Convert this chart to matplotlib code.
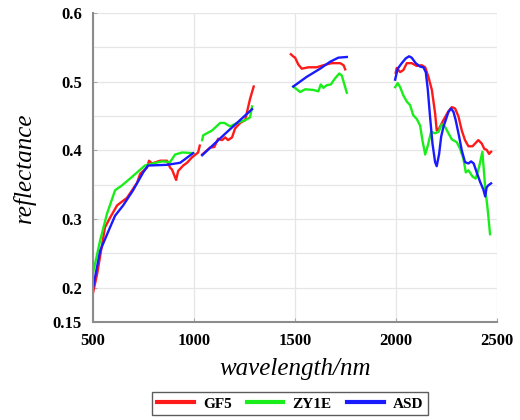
import matplotlib.pyplot as plt
import numpy as np

nan = np.nan

# Spektren (Segmente durch nan getrennt)
gf5_wl = [500, 520, 559, 584, 619, 668, 718, 733, 767, 777, 792, 832, 866, 881, 891, 911, 921, 946, 965, 990, 1020, 1028, nan,
          1040, 1079, 1100, 1119, 1139, 1154, 1168, 1188, 1203, 1228, 1253, 1262, 1277, 1295, nan,
          1479, 1490, 1500, 1516, 1533, 1566, 1607, 1640, 1681, 1723, 1740, 1748, nan,
          1998, 2003, 2020, 2036, 2053, 2077, 2102, 2127, 2144, 2160, 2177, 2193, 2201, 2213, 2234, 2259, 2276,
          2292, 2309, 2325, 2341, 2358, 2378, 2391, 2407, 2424, 2437, 2448, 2460, 2470]
gf5_ref = [0.193, 0.220, 0.288, 0.302, 0.320, 0.331, 0.353, 0.366, 0.375, 0.385, 0.381, 0.385, 0.385, 0.375, 0.372, 0.357, 0.370, 0.378, 0.382, 0.390, 0.397, 0.407, nan,
           0.394, 0.404, 0.405, 0.417, 0.415, 0.419, 0.415, 0.419, 0.432, 0.440, 0.444, 0.456, 0.475, 0.493, nan,
           0.540, 0.537, 0.535, 0.525, 0.519, 0.521, 0.521, 0.524, 0.527, 0.527, 0.524, 0.518, nan,
           0.513, 0.520, 0.514, 0.517, 0.527, 0.527, 0.523, 0.524, 0.521, 0.507, 0.488, 0.454, 0.429, 0.432, 0.444, 0.457, 0.463,
           0.461, 0.449, 0.429, 0.415, 0.406, 0.406, 0.410, 0.415, 0.410, 0.402, 0.401, 0.395, 0.398]

zy1e_wl = [500, 535, 569, 609, 643, 683, 718, 757, 797, 841, 881, 906, 941, 995, nan,
           1040, 1045, 1089, 1129, 1150, 1178, 1213, 1253, 1277, 1287, nan,
           1491, 1525, 1550, 1591, 1615, 1627, 1640, 1657, 1677, 1698, 1719, 1731, 1748, 1756, nan,
           1995, 2008, 2020, 2036, 2053, 2069, 2085, 2102, 2119, 2130, 2144, 2157, 2173, 2193, 2210, 2226, 2243,
           2259, 2276, 2300, 2317, 2333, 2345, 2358, 2378, 2394, 2411, 2427, 2441, 2454, 2465]
zy1e_ref = [0.222, 0.269, 0.308, 0.342, 0.349, 0.359, 0.368, 0.378, 0.381, 0.384, 0.383, 0.394, 0.397, 0.396, nan,
            0.415, 0.422, 0.429, 0.440, 0.440, 0.435, 0.440, 0.444, 0.448, 0.464, nan,
            0.493, 0.485, 0.489, 0.488, 0.486, 0.496, 0.491, 0.495, 0.496, 0.505, 0.512, 0.509, 0.492, 0.484, nan,
            0.492, 0.498, 0.492, 0.480, 0.471, 0.466, 0.451, 0.446, 0.436, 0.415, 0.394, 0.407, 0.427, 0.425, 0.427, 0.438, 0.434,
            0.425, 0.416, 0.412, 0.402, 0.388, 0.368, 0.371, 0.362, 0.359, 0.376, 0.398, 0.346, 0.312, 0.278]

asd_wl = [500, 535, 584, 609, 649, 698, 748, 772, 866, 931, 995, nan,
          1040, 1160, 1287, nan,
          1491, 1557, 1624, 1673, 1714, 1756, nan,
          1995, 2008, 2028, 2048, 2064, 2077, 2097, 2119, 2135, 2147, 2157, 2168, 2180, 2193, 2201, 2213, 2223, 2234,
          2259, 2272, 2284, 2295, 2312, 2325, 2341, 2358, 2371, 2384, 2399, 2416, 2432, 2441, 2448, 2456, 2470]
asd_ref = [0.200, 0.254, 0.288, 0.305, 0.320, 0.342, 0.368, 0.378, 0.379, 0.382, 0.396, nan,
           0.393, 0.426, 0.460, nan,
           0.493, 0.507, 0.519, 0.529, 0.535, 0.536, nan,
           0.503, 0.519, 0.527, 0.534, 0.537, 0.535, 0.527, 0.522, 0.521, 0.514, 0.488, 0.449, 0.410, 0.383, 0.377, 0.395, 0.420, 0.434,
           0.456, 0.461, 0.456, 0.444, 0.420, 0.400, 0.383, 0.381, 0.384, 0.381, 0.368, 0.354, 0.343, 0.333, 0.346, 0.349, 0.352]

x_ticks = [500, 1000, 1500, 2000, 2500]
y_ticks = [0.15, 0.2, 0.3, 0.4, 0.5, 0.6]
y_grid = [0.25, 0.35, 0.45, 0.55]

plt.rcParams['font.family'] = ['Liberation Serif', 'DejaVu Serif']

fig = plt.figure(figsize=(5.2, 4.2), dpi=100)
ax = fig.add_axes([0.179, 0.233, 0.777, 0.736])

ax.plot(gf5_wl, gf5_ref, color='#ff1a1a', linewidth=1.7, label='GF5')
ax.plot(zy1e_wl, zy1e_ref, color='#1aee1a', linewidth=1.7, label='ZY1E')
ax.plot(asd_wl, asd_ref, color='#1a1aff', linewidth=1.7, label='ASD')

ax.set_xlim(500, 2500)
ax.set_ylim(0.15, 0.6)
ax.set_xticks(x_ticks)
ax.set_yticks(y_ticks)
ax.set_yticklabels(['0.15', '0.2', '0.3', '0.4', '0.5', '0.6'])
ax.set_yticks(y_grid, minor=True)
ax.grid(True, which='both', color='#e6e6e6', linewidth=0.9)
ax.set_axisbelow(True)

for s in ['top', 'right']:
    ax.spines[s].set_visible(False)
for s in ['left', 'bottom']:
    ax.spines[s].set_color('#8c8c8c')
    ax.spines[s].set_linewidth(1.5)
ax.tick_params(which='both', direction='in', length=3, color='#aaaaaa', labelsize=12, pad=8)
ax.tick_params(which='minor', length=0)
for lab in ax.get_xticklabels() + ax.get_yticklabels():
    lab.set_fontweight('bold')

ax.set_xlabel('wavelength/nm', fontsize=18, style='italic', labelpad=6)
ax.set_ylabel('reflectance', fontsize=18, style='italic', labelpad=12)

leg = fig.legend(loc='upper center', bbox_to_anchor=(0.558, 0.066), ncol=3, frameon=True, fancybox=False,
                 edgecolor='#333333', handlelength=2.4, columnspacing=1.0, borderpad=0.3, borderaxespad=0,
                 handletextpad=0.6, prop={'weight': 'bold', 'size': 11})
leg.get_frame().set_linewidth(1.0)
for line in leg.get_lines():
    line.set_linewidth(3)

plt.savefig('out.png', dpi=100)
